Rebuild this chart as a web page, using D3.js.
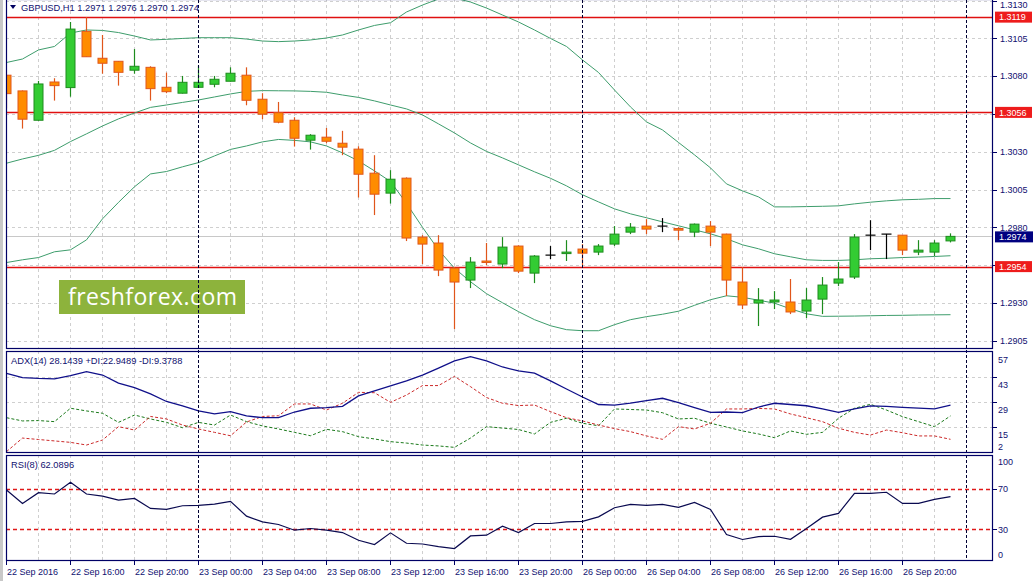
<!DOCTYPE html>
<html><head><meta charset="utf-8">
<script src="https://cdn.jsdelivr.net/npm/d3@7/dist/d3.min.js"></script>
<style>
body{margin:0;background:#fff;}
svg{display:block;font-family:"Liberation Sans",Arial,sans-serif;}
</style>
</head><body>
<svg id="c" width="1035" height="581"></svg>
<script>
// ---------------- DATA ----------------
const symbolTitle = "GBPUSD,H1  1.2971 1.2976 1.2970 1.2974";
const adxTitle = "ADX(14) 28.1439 +DI:22.9489 -DI:9.3788";
const rsiTitle = "RSI(8) 62.0896";

const timeLabels = ["22 Sep 2016","22 Sep 16:00","22 Sep 20:00","23 Sep 00:00","23 Sep 04:00","23 Sep 08:00","23 Sep 12:00","23 Sep 16:00","23 Sep 20:00","26 Sep 00:00","26 Sep 04:00","26 Sep 08:00","26 Sep 12:00","26 Sep 16:00","26 Sep 20:00"];
const timeLabelBars = [0,4,8,12,16,20,24,28,32,36,40,44,48,52,56];
const daySeparatorBars = [12,36,60];

const open  = [1.30806,1.30702,1.30508,1.30761,1.30724,1.31096,1.30918,1.30898,1.30839,1.30858,1.30726,1.30687,1.30726,1.30746,1.30766,1.30806,1.30647,1.30558,1.30508,1.30376,1.30396,1.30356,1.30317,1.30158,1.30026,1.30125,1.29735,1.29696,1.2953,1.29451,1.29577,1.29557,1.29676,1.29497,1.29616,1.29629,1.29656,1.29636,1.29689,1.29768,1.29808,1.29808,1.29792,1.29768,1.29808,1.29755,1.29438,1.29299,1.29306,1.29306,1.29246,1.29325,1.29431,1.29471,1.29748,1.29755,1.29748,1.29636,1.29636,1.2971];
const high  = [1.30808,1.30705,1.30768,1.30786,1.31158,1.3119,1.31072,1.309,1.30979,1.30865,1.30823,1.30801,1.30869,1.30801,1.30858,1.30858,1.30687,1.30629,1.30528,1.30416,1.30457,1.30438,1.30336,1.30277,1.30178,1.3013,1.29748,1.29748,1.29537,1.29603,1.29696,1.29735,1.2968,1.29616,1.29676,1.29715,1.29689,1.29689,1.29808,1.29828,1.29854,1.29861,1.29801,1.29825,1.29841,1.29758,1.29537,1.29398,1.29378,1.29458,1.29398,1.29471,1.2957,1.29755,1.29847,1.29756,1.29748,1.29715,1.29715,1.2976];
const low   = [1.30585,1.30453,1.30505,1.30638,1.30664,1.30928,1.30816,1.30737,1.30816,1.30638,1.30687,1.30685,1.30724,1.30726,1.30764,1.30607,1.30515,1.30488,1.30334,1.30314,1.30356,1.30277,1.29997,1.29881,1.29957,1.29709,1.29557,1.29477,1.29127,1.29398,1.2955,1.2953,1.29497,1.29431,1.2959,1.29577,1.2955,1.29616,1.29676,1.29755,1.29755,1.29768,1.29715,1.29735,1.29676,1.29345,1.29259,1.29147,1.29259,1.29226,1.292,1.29226,1.29411,1.29458,1.29649,1.2959,1.29616,1.29616,1.2961,1.297];
const close = [1.30684,1.30515,1.30748,1.30737,1.31111,1.30928,1.30885,1.30825,1.30865,1.30717,1.30697,1.30759,1.30759,1.30779,1.30819,1.3064,1.30548,1.30495,1.30389,1.30409,1.30369,1.3033,1.30151,1.30019,1.30118,1.29729,1.29689,1.29517,1.29438,1.2957,1.2957,1.29669,1.2951,1.2961,1.29616,1.29636,1.29629,1.29676,1.29755,1.29801,1.29788,1.29808,1.29781,1.29821,1.29768,1.29451,1.29286,1.29319,1.29319,1.2924,1.29319,1.29418,1.29458,1.29735,1.29748,1.29755,1.29649,1.29649,1.29696,1.2974];

const bbUpper  = [1.3089,1.30913,1.30973,1.30996,1.31085,1.31105,1.31102,1.31088,1.31065,1.31039,1.31043,1.31049,1.31054,1.31054,1.31054,1.31045,1.31032,1.31028,1.31032,1.31039,1.31052,1.31072,1.31105,1.31135,1.31153,1.31224,1.3127,1.3131,1.31316,1.3129,1.3125,1.31204,1.31158,1.31105,1.31049,1.30996,1.30907,1.30824,1.30708,1.30596,1.30497,1.30444,1.30361,1.30279,1.30193,1.30087,1.30041,1.30001,1.29935,1.29935,1.29937,1.29939,1.29942,1.29955,1.29966,1.29975,1.29982,1.29985,1.2999,1.2999];
const bbMiddle = [1.30224,1.30252,1.30276,1.30309,1.30367,1.30418,1.3047,1.30517,1.30556,1.30593,1.30609,1.30626,1.30642,1.30662,1.30682,1.30699,1.30704,1.30703,1.30702,1.30699,1.30693,1.30675,1.30659,1.30636,1.30609,1.30583,1.30543,1.30484,1.30424,1.30358,1.30302,1.30259,1.30213,1.30167,1.30124,1.30074,1.30015,1.29968,1.29922,1.29889,1.29863,1.29836,1.2981,1.29783,1.29757,1.29724,1.29684,1.29658,1.29625,1.29605,1.29585,1.29581,1.29581,1.29585,1.29592,1.29595,1.296,1.29603,1.29607,1.29612];
const bbLower  = [1.29567,1.29585,1.296,1.29638,1.29651,1.29717,1.29856,1.29965,1.30068,1.30153,1.30169,1.302,1.30228,1.30272,1.30315,1.30338,1.30365,1.30381,1.30375,1.30365,1.30338,1.30292,1.30239,1.30173,1.30103,1.29958,1.298,1.29651,1.29529,1.2944,1.29361,1.29301,1.29242,1.29189,1.29149,1.29123,1.29116,1.29116,1.29156,1.29189,1.29209,1.29225,1.29245,1.29284,1.29321,1.29347,1.29337,1.29318,1.29298,1.29261,1.29228,1.29211,1.29212,1.29213,1.29215,1.29217,1.29218,1.2922,1.29221,1.29222];

const adx     = [45.0,42.7,42.2,42.0,43.8,46.0,44.1,39.6,37.1,33.5,29.3,26.8,24.0,22.3,23.6,21.2,20.2,20.2,23.4,25.5,25.8,26.6,32.4,35.2,38.0,40.8,44.1,48.0,52.0,54.4,52.0,48.6,46.4,45.2,40.8,36.3,31.8,27.6,27.3,28.4,29.8,31.1,28.7,25.9,23.2,23.4,23.0,26.2,28.3,27.6,26.9,25.1,23.2,25.1,26.8,26.5,26.0,25.6,25.1,27.2];
const plusDI  = [20.2,18.4,18.6,18.0,25.5,24.0,22.7,17.6,21.7,19.5,17.6,14.6,17.6,16.1,21.7,18.0,15.6,13.9,12.0,10.1,13.7,12.4,9.6,8.3,6.8,6.0,4.9,4.4,3.6,8.8,15.2,14.4,13.6,11.1,17.6,19.9,17.1,15.7,25.1,24.8,24.5,23.0,19.5,19.9,17.1,15.0,12.8,11.1,9.0,12.8,10.9,12.0,19.9,25.5,27.7,24.5,20.8,18.0,15.2,21.2];
const minusDI = [1.2,8.8,8.0,7.2,6.4,4.9,7.7,15.2,13.3,20.9,19.5,16.1,13.9,12.0,10.1,17.8,20.9,21.3,27.9,27.9,24.5,28.3,34.4,34.2,28.8,32.9,38.2,38.2,43.3,37.6,31.5,28.3,27.0,27.3,23.6,20.2,18.4,16.1,14.1,12.4,10.0,8.1,15.2,13.9,17.1,25.1,25.1,25.4,25.1,22.3,20.2,18.0,14.3,12.0,10.5,13.3,11.8,10.0,10.0,8.1];
const rsi     = [68.5,55.4,65.9,64.6,76.1,64.6,62.6,58.7,60.3,50.5,49.5,53.1,53.4,54.7,57.4,42.9,37.3,34.7,29.1,30.8,29.1,26.8,19.3,15.0,26.5,16.3,15.6,13.1,11.1,23.5,24.2,33.1,26.8,35.7,35.7,37.3,37.7,42.2,51.1,54.4,53.4,54.4,51.5,56.4,49.5,24.9,20.0,22.9,23.2,20.2,30.8,41.9,45.6,65.3,65.3,66.3,55.4,55.4,59.4,62.09];

const priceGrid   = [1.3130,1.3105,1.3080,1.3055,1.3030,1.3005,1.2980,1.2955,1.2930,1.2905];
const priceLabels = [1.3130,1.3105,1.3080,1.3030,1.3005,1.2980,1.2930,1.2905];
const levelLines  = [1.3119,1.3056,1.2954];
const lastPrice   = 1.2974;
const adxGrid   = [43,29,15];
const adxLabels = [57,43,29,15,2];
const rsiLevels = [70,30];
const rsiLabels = [100,70,30,0];

// ---------------- LAYOUT ----------------
const W = 1035, H = 581;
const L = 6, R = 993;
const main = {top:-1, bottom:349};
const adxP = {top:351, bottom:453};
const rsiP = {top:455, bottom:561};
const NAVY = "#000066", TXT = "#101070";

const svg = d3.select("#c");
const x = d3.scaleLinear().domain([0, 59]).range([6.5, 950.5]);
const y = d3.scaleLinear().domain([1.2905, 1.3105]).range([340.7, 38.3]);
const yA = d3.scaleLinear().domain([15, 43]).range([427, 377]);
const yR = d3.scaleLinear().domain([30, 70]).range([529.3, 488.5]);

const defs = svg.append("defs");
function clip(id, p){ defs.append("clipPath").attr("id", id).append("rect")
  .attr("x", L).attr("y", p.top).attr("width", R - L).attr("height", p.bottom - p.top); }
clip("cm", main); clip("ca", adxP); clip("cr", rsiP);

// left frame strip
svg.append("rect").attr("x",0).attr("y",0).attr("width",3).attr("height",H).attr("fill","#c8c8c8");

// vertical grid lines (every 2 bars)
const vGrid = d3.range(2, 60, 2).filter(b => !daySeparatorBars.includes(b));
[main, adxP, rsiP].forEach(p => {
  svg.append("g").selectAll("line").data(vGrid).join("line")
    .attr("x1", d => x(d)).attr("x2", d => x(d))
    .attr("y1", p.top).attr("y2", p.bottom)
    .attr("stroke", "#cfcfcf").attr("stroke-dasharray", "3,3");
});

// main horizontal grid
svg.append("g").selectAll("line").data(priceGrid).join("line")
  .attr("x1", L).attr("x2", R).attr("y1", d => Math.round(y(d)) + 0.5).attr("y2", d => Math.round(y(d)) + 0.5)
  .attr("stroke", "#cfcfcf").attr("stroke-dasharray", "3,3");
// adx grid
svg.append("g").selectAll("line").data(adxGrid).join("line")
  .attr("x1", L).attr("x2", R).attr("y1", d => yA(d) + 0.5).attr("y2", d => yA(d) + 0.5)
  .attr("stroke", "#cfcfcf").attr("stroke-dasharray", "3,3");

// watermark
svg.append("rect").attr("x",59).attr("y",280).attr("width",186).attr("height",34).attr("fill","#8db33c");
svg.append("text").attr("x",68).attr("y",305).attr("fill","#fff")
  .attr("font-family","'Open Sans',sans-serif").attr("font-size",23)
  .attr("textLength",169).attr("lengthAdjust","spacing").text("freshforex.com");

// current price line
svg.append("line").attr("x1",L).attr("x2",R).attr("y1",Math.round(y(lastPrice))+0.5).attr("y2",Math.round(y(lastPrice))+0.5)
  .attr("stroke","#c8c8c8");

// level lines
svg.append("g").selectAll("line").data(levelLines).join("line")
  .attr("x1", L).attr("x2", R).attr("y1", d => Math.round(y(d)) + 0.5).attr("y2", d => Math.round(y(d)) + 0.5)
  .attr("stroke", "#e01010").attr("stroke-width", 1.4);

// bollinger bands
const gm = svg.append("g").attr("clip-path","url(#cm)");
[bbUpper, bbMiddle, bbLower].forEach(arr => {
  gm.append("path").attr("d", d3.line().x((d,i) => x(i)).y(d => y(d))(arr))
    .attr("fill","none").attr("stroke","#3e9d6c").attr("stroke-width",1);
});

// candles
const candles = d3.range(open.length).map(i => ({i, o:open[i], h:high[i], l:low[i], c:close[i]}));
const gc = gm.append("g");
candles.forEach(d => {
  const up = d.c > d.o, dn = d.c < d.o;
  const edge = up ? "#1e8c1e" : dn ? "#e0561b" : "#000";
  gc.append("line").attr("x1", x(d.i)).attr("x2", x(d.i)).attr("y1", y(d.h)).attr("y2", y(d.l))
    .attr("stroke", edge).attr("stroke-width", 1.2);
  if (up || dn) {
    const top = y(Math.max(d.o, d.c)), bot = y(Math.min(d.o, d.c));
    gc.append("rect").attr("x", x(d.i) - 4.5).attr("y", top).attr("width", 9).attr("height", Math.max(1.5, bot - top))
      .attr("fill", up ? "#33cc33" : "#ff8c00").attr("stroke", edge).attr("stroke-width", 1);
  } else {
    gc.append("line").attr("x1", x(d.i) - 5).attr("x2", x(d.i) + 5).attr("y1", y(d.o)).attr("y2", y(d.o))
      .attr("stroke", "#000").attr("stroke-width", 1.2);
  }
});

// ADX panel lines
const ga = svg.append("g").attr("clip-path","url(#ca)");
ga.append("path").attr("d", d3.line().x((d,i)=>x(i)).y(d=>yA(d))(plusDI))
  .attr("fill","none").attr("stroke","#1b7a1b").attr("stroke-dasharray","3,2");
ga.append("path").attr("d", d3.line().x((d,i)=>x(i)).y(d=>yA(d))(minusDI))
  .attr("fill","none").attr("stroke","#cc2a2a").attr("stroke-dasharray","3,2");
ga.append("path").attr("d", d3.line().x((d,i)=>x(i)).y(d=>yA(d))(adx))
  .attr("fill","none").attr("stroke","#10108a").attr("stroke-width",1.3);

// RSI panel
const gr = svg.append("g").attr("clip-path","url(#cr)");
rsiLevels.forEach(v => {
  gr.append("path")
    .attr("d", `M${L},${Math.round(yR(v)) + 0.5}H${R}`)
    .attr("fill","none").attr("stroke","#e01818").attr("stroke-width",1.4).attr("stroke-dasharray","4,3");
});
gr.append("path").attr("d", d3.line().x((d,i)=>x(i)).y(d=>yR(d))(rsi))
  .attr("fill","none").attr("stroke","#0a0a50").attr("stroke-width",1.2);

// day separators
svg.append("g").selectAll("line").data(daySeparatorBars).join("line")
  .attr("x1", d => x(d)).attr("x2", d => x(d)).attr("y1", 0).attr("y2", rsiP.bottom)
  .attr("stroke", "#000033").attr("stroke-dasharray", "3,2");

// panel borders
[main, adxP, rsiP].forEach(p => {
  svg.append("rect").attr("x", L + 0.5).attr("y", p.top + 0.5).attr("width", R - L - 1).attr("height", p.bottom - p.top - 1)
    .attr("fill","none").attr("stroke", NAVY).attr("stroke-width", 1.2);
});

// right axis - price
const ax = svg.append("g").attr("font-size", 9).attr("fill", TXT);
priceGrid.forEach(v => {
  ax.append("line").attr("x1", R).attr("x2", R + 4).attr("y1", Math.round(y(v)) + 0.5).attr("y2", Math.round(y(v)) + 0.5).attr("stroke", NAVY);
});
ax.selectAll("text.p").data(priceLabels).join("text").attr("class","p")
  .attr("x", 1000).attr("y", d => Math.max(y(d) + 3.3, 8)).text(d => d.toFixed(4));

// level label boxes
levelLines.forEach(v => {
  ax.append("rect").attr("x", 995).attr("y", y(v) - 5.5).attr("width", 37).attr("height", 11).attr("fill", "#ee1c1c");
  ax.append("text").attr("x", 999).attr("y", y(v) + 3.3).attr("fill", "#fff").text(v.toFixed(4));
});
ax.append("rect").attr("x", 995).attr("y", y(lastPrice) - 5).attr("width", 38).attr("height", 11).attr("fill", "#000080");
ax.append("text").attr("x", 999).attr("y", y(lastPrice) + 3.8).attr("fill", "#fff").text(lastPrice.toFixed(4));

// ADX axis
adxGrid.forEach(v => ax.append("line").attr("x1", R).attr("x2", R + 4).attr("y1", yA(v) + 0.5).attr("y2", yA(v) + 0.5).attr("stroke", NAVY));
ax.selectAll("text.a").data(adxLabels).join("text").attr("class","a")
  .attr("x", 998).attr("y", d => Math.min(yA(d) + 8, 447) + 3.3).text(d => d);

// RSI axis
rsiLevels.forEach(v => ax.append("line").attr("x1", R).attr("x2", R + 4).attr("y1", Math.round(yR(v)) + 0.5).attr("y2", Math.round(yR(v)) + 0.5).attr("stroke", NAVY));
ax.selectAll("text.r").data(rsiLabels).join("text").attr("class","r")
  .attr("x", 998).attr("y", d => Math.max(462, Math.min(yR(d), 554.3)) + 3.3).text(d => d);

// time axis
timeLabelBars.forEach((b, k) => {
  ax.append("line").attr("x1", x(b)).attr("x2", x(b)).attr("y1", rsiP.bottom).attr("y2", rsiP.bottom + 4).attr("stroke", NAVY);
  ax.append("text").attr("x", x(b) + 0.5).attr("y", 574.5).text(timeLabels[k]);
});

// titles
svg.append("path").attr("d","M10,5 L16,5 L13,9 Z").attr("fill","#000060");
svg.append("text").attr("x",21).attr("y",10.5).attr("font-size",9.3).attr("fill",TXT).text(symbolTitle);
svg.append("text").attr("x",11).attr("y",364).attr("font-size",9.3).attr("fill",TXT).text(adxTitle);
svg.append("text").attr("x",11).attr("y",467.5).attr("font-size",9.3).attr("fill",TXT).text(rsiTitle);
</script>
</body></html>
